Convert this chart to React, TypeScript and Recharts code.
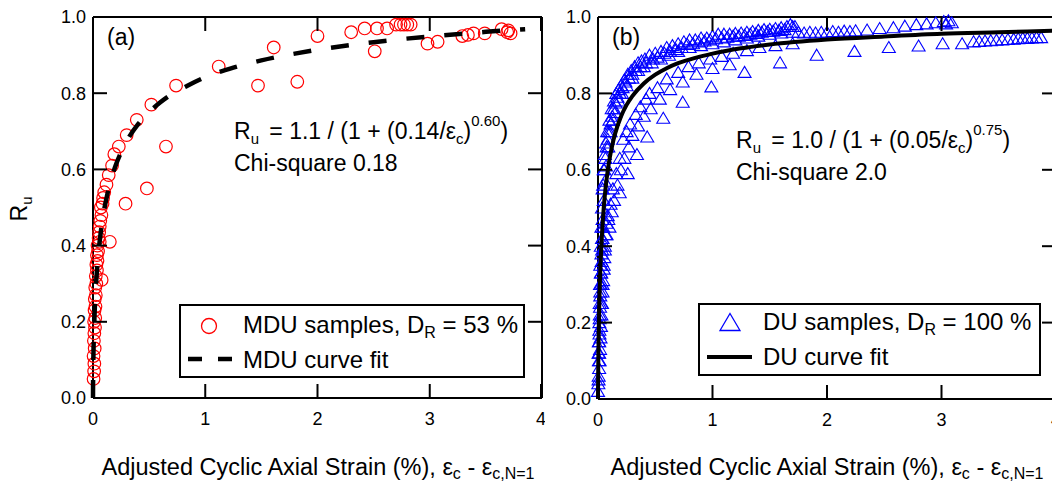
import React from "react";
import { ScatterChart, Scatter, XAxis, YAxis, Legend } from "recharts";

const FONT = "Liberation Sans, Arial, sans-serif";

const xTicks = [0, 1, 2, 3, 4];
const yTicks = [0, 0.2, 0.4, 0.6, 0.8, 1.0];

// (a) MDU samples, DR = 53 %   [adjusted strain %, Ru]
const mduSamples = [
  [0.005, 0.05], [0.01, 0.07], [0.012, 0.09], [0.005, 0.11], [0.015, 0.13], [0.008, 0.15],
  [0.012, 0.17], [0.018, 0.185], [0.01, 0.2], [0.02, 0.21], [0.014, 0.23], [0.022, 0.24],
  [0.016, 0.26], [0.025, 0.27], [0.02, 0.29], [0.077, 0.31], [0.03, 0.3], [0.025, 0.32],
  [0.035, 0.335], [0.03, 0.35], [0.04, 0.36], [0.035, 0.375], [0.045, 0.385], [0.04, 0.4],
  [0.06, 0.41], [0.05, 0.42], [0.15, 0.41], [0.055, 0.435], [0.06, 0.45], [0.065, 0.465],
  [0.075, 0.48], [0.07, 0.5], [0.085, 0.51], [0.09, 0.525], [0.1, 0.54], [0.12, 0.56],
  [0.14, 0.585], [0.17, 0.61], [0.19, 0.64], [0.23, 0.66], [0.3, 0.69], [0.39, 0.73],
  [0.52, 0.77], [0.74, 0.82], [1.12, 0.87], [1.61, 0.92], [2.0, 0.95], [2.3, 0.96],
  [2.42, 0.97], [2.53, 0.97], [2.62, 0.97], [2.7, 0.98], [2.74, 0.98], [2.77, 0.98],
  [2.8, 0.98], [2.83, 0.98], [1.47, 0.82], [1.82, 0.83], [0.65, 0.66], [0.48, 0.55],
  [0.29, 0.51], [2.51, 0.91], [2.98, 0.93], [3.07, 0.935], [3.29, 0.95], [3.34, 0.953],
  [3.39, 0.957], [3.49, 0.957], [3.64, 0.968], [3.69, 0.96], [3.72, 0.957], [3.7, 0.965],
];

// (a) MDU curve fit
const mduFitX = [0, 0.0005, 0.001, 0.002, 0.003, 0.005, 0.0075, 0.01, 0.015, 0.02, 0.03, 0.04, 0.05, 0.07, 0.1, 0.125, 0.15, 0.2, 0.25, 0.3, 0.4, 0.5, 0.6, 0.7, 0.85, 1.0, 1.25, 1.5, 2.0, 2.5, 3.0, 3.5, 3.85];
const mduFitY = [0, 0.036, 0.054, 0.08, 0.1, 0.131, 0.162, 0.187, 0.228, 0.261, 0.313, 0.353, 0.385, 0.437, 0.495, 0.531, 0.561, 0.609, 0.645, 0.674, 0.718, 0.75, 0.776, 0.797, 0.821, 0.842, 0.867, 0.886, 0.914, 0.934, 0.949, 0.961, 0.968];

// (b) DU samples, DR = 100 %
const duSamples = [
  // column near zero strain
  [0, 0.02], [0.003, 0.04], [0.006, 0.06], [0.01, 0.08], [0.014, 0.1], [0.005, 0.12], [0.018, 0.13],
  [0.008, 0.15], [0.022, 0.16], [0.012, 0.18], [0.026, 0.19], [0.015, 0.21], [0.03, 0.22],
  [0.018, 0.24], [0.035, 0.25], [0.02, 0.27], [0.04, 0.28], [0.024, 0.3], [0.045, 0.31],
  [0.028, 0.33], [0.05, 0.34], [0.032, 0.36], [0.055, 0.37], [0.036, 0.39], [0.06, 0.4],
  [0.04, 0.42], [0.068, 0.43], [0.045, 0.45], [0.075, 0.46], [0.085, 0.48],
  // upper band
  [0.005, 0.05], [0.008, 0.1], [0.01, 0.15], [0.012, 0.2], [0.015, 0.25], [0.018, 0.3], [0.02, 0.35],
  [0.025, 0.4], [0.03, 0.45], [0.035, 0.5], [0.04, 0.55], [0.05, 0.6], [0.06, 0.64], [0.07, 0.67],
  [0.08, 0.7], [0.1, 0.73], [0.12, 0.76], [0.14, 0.78], [0.16, 0.8], [0.18, 0.81], [0.2, 0.82],
  [0.23, 0.835], [0.26, 0.85], [0.29, 0.86], [0.32, 0.87], [0.35, 0.88], [0.38, 0.885], [0.41, 0.89],
  [0.45, 0.9], [0.5, 0.905], [0.55, 0.91], [0.6, 0.92], [0.65, 0.925], [0.7, 0.93], [0.75, 0.935],
  [0.8, 0.94], [0.85, 0.94], [0.9, 0.945], [0.95, 0.945], [1.0, 0.95], [1.05, 0.955], [1.1, 0.955],
  [1.15, 0.955], [1.2, 0.957], [1.25, 0.958], [1.3, 0.96], [1.35, 0.962], [1.4, 0.965], [1.45, 0.967],
  [1.5, 0.968], [1.55, 0.97], [1.6, 0.972], [1.65, 0.975], [1.7, 0.975],
  [0.045, 0.56], [0.055, 0.6], [0.065, 0.63], [0.075, 0.66], [0.085, 0.68], [0.095, 0.7], [0.11, 0.72],
  [0.125, 0.74], [0.14, 0.76], [0.155, 0.775], [0.17, 0.79], [0.19, 0.8], [0.215, 0.815], [0.24, 0.83],
  [0.27, 0.84], [0.3, 0.85], [0.33, 0.86], [0.37, 0.87], [0.42, 0.88], [0.48, 0.89], [0.52, 0.895],
  [0.58, 0.905], [0.63, 0.91], [0.68, 0.915], [0.73, 0.92], [0.78, 0.928], [0.83, 0.93], [0.88, 0.935],
  [0.93, 0.937], [0.98, 0.94], [1.03, 0.943], [1.08, 0.945], [1.13, 0.947], [1.18, 0.95], [1.23, 0.95],
  [1.28, 0.952], [1.33, 0.955], [1.38, 0.957], [1.43, 0.96], [1.48, 0.962], [1.53, 0.963], [1.58, 0.965],
  [1.63, 0.967],
  [0.01, 0.12], [0.013, 0.17], [0.016, 0.22], [0.02, 0.28], [0.025, 0.33], [0.03, 0.38], [0.035, 0.42],
  [0.04, 0.47], [0.05, 0.52], [0.06, 0.57], [0.07, 0.61], [0.09, 0.66], [0.11, 0.7], [0.13, 0.73],
  [0.15, 0.75], [0.18, 0.78], [0.21, 0.8], [0.25, 0.82], [0.3, 0.84], [0.35, 0.86], [0.4, 0.87],
  [0.47, 0.88], [0.55, 0.89], [0.62, 0.9], [0.7, 0.91], [0.8, 0.92], [0.9, 0.925], [1.0, 0.93],
  [1.1, 0.935], [1.2, 0.94], [1.3, 0.945], [1.4, 0.95], [1.5, 0.955], [1.6, 0.958], [1.7, 0.96],
  // upper right
  [1.68, 0.98], [1.72, 0.975], [1.75, 0.96], [1.8, 0.958], [1.85, 0.96], [1.9, 0.958], [1.95, 0.96],
  [2.0, 0.96], [2.05, 0.962], [2.1, 0.96], [2.15, 0.963], [2.2, 0.962], [2.25, 0.964], [2.35, 0.966],
  [2.46, 0.97], [2.58, 0.972], [2.68, 0.976], [2.78, 0.98], [2.87, 0.982], [2.95, 0.985],
  [3.02, 0.988], [3.06, 0.99], [3.09, 0.985], [3.04, 0.982],
  // lower band
  [0.03, 0.25], [0.04, 0.3], [0.05, 0.35], [0.06, 0.39], [0.075, 0.43], [0.09, 0.47], [0.11, 0.51],
  [0.13, 0.55], [0.16, 0.59], [0.19, 0.63], [0.22, 0.68], [0.25, 0.7], [0.28, 0.72], [0.33, 0.745],
  [0.37, 0.765], [0.42, 0.785], [0.45, 0.8], [0.52, 0.815], [0.6, 0.838], [0.7, 0.855], [0.79, 0.87],
  [0.88, 0.88], [0.98, 0.89], [1.08, 0.897], [1.18, 0.905], [1.3, 0.912], [1.41, 0.92], [1.55, 0.925],
  [1.7, 0.93],
  [0.1, 0.45], [0.12, 0.49], [0.14, 0.52], [0.17, 0.56], [0.2, 0.6], [0.23, 0.63], [0.27, 0.66],
  [0.3, 0.69], [0.35, 0.715], [0.4, 0.74], [0.46, 0.76], [0.54, 0.785], [0.63, 0.81], [0.74, 0.83],
  [0.86, 0.85], [1.0, 0.865], [1.15, 0.875],
  [0.19, 0.54], [0.26, 0.59], [0.34, 0.64], [0.43, 0.686], [0.57, 0.735], [0.74, 0.777], [0.99, 0.817],
  [1.28, 0.855], [1.59, 0.88], [1.91, 0.9], [2.24, 0.91], [2.54, 0.92], [2.8, 0.924], [3.01, 0.93],
  [3.18, 0.93],
  [3.28, 0.935], [3.33, 0.936], [3.38, 0.937], [3.43, 0.938], [3.48, 0.939], [3.53, 0.94],
  [3.58, 0.941], [3.63, 0.942], [3.67, 0.943], [3.71, 0.944], [3.75, 0.944], [3.79, 0.945],
  [3.83, 0.946], [3.87, 0.946],
];

// (b) DU curve fit
const duFitX = [0, 0.0005, 0.001, 0.002, 0.003, 0.005, 0.0075, 0.01, 0.015, 0.02, 0.03, 0.04, 0.05, 0.065, 0.08, 0.1, 0.125, 0.15, 0.2, 0.25, 0.3, 0.4, 0.5, 0.6, 0.7, 0.85, 1.0, 1.25, 1.5, 2.0, 2.5, 3.0, 3.5, 4.0];
const duFitY = [0, 0.031, 0.05, 0.082, 0.108, 0.151, 0.194, 0.23, 0.288, 0.335, 0.405, 0.458, 0.5, 0.549, 0.587, 0.627, 0.665, 0.695, 0.739, 0.77, 0.793, 0.826, 0.849, 0.866, 0.879, 0.893, 0.904, 0.918, 0.928, 0.941, 0.949, 0.956, 0.96, 0.964];

const toPts = (rows: number[][]) => rows.map(([x, y]) => ({ x, y }));
const zipPts = (xs: number[], ys: number[]) => xs.map((x, i) => ({ x, y: ys[i] }));

const mduData = toPts(mduSamples);
const mduFit = zipPts(mduFitX, mduFitY);
const duData = toPts(duSamples);
const duFit = zipPts(duFitX, duFitY);

const frame = { stroke: "#000", strokeWidth: 2 };
const TICK_LEN = 14;
const X_MARGIN = 14;
const Y_MARGIN = 7;

// bottom tick label plus inward tick marks on bottom and top edges
const XTick = (p: any) => {
  const axisY = p.y - X_MARGIN;
  return (
    <g>
      <line x1={p.x} x2={p.x} y1={axisY} y2={axisY - TICK_LEN} stroke="#000" strokeWidth={2} />
      <line x1={p.x} x2={p.x} y1={p.top} y2={p.top + TICK_LEN} stroke="#000" strokeWidth={2} />
      <text x={p.x} y={p.y} dy="0.71em" textAnchor="middle" fontSize={18} fontFamily={FONT} fill="#000">
        {p.payload.value}
      </text>
    </g>
  );
};

// left tick label plus inward tick marks on left and right edges
const YTick = (p: any) => {
  const axisX = p.x + Y_MARGIN;
  return (
    <g>
      <line x1={axisX} x2={axisX + TICK_LEN} y1={p.y} y2={p.y} stroke="#000" strokeWidth={2} />
      <line x1={p.right - TICK_LEN} x2={p.right} y1={p.y} y2={p.y} stroke="#000" strokeWidth={2} />
      <text x={p.x} y={p.y} dy="0.35em" textAnchor="end" fontSize={18} fontFamily={FONT} fill="#000">
        {Number(p.payload.value).toFixed(1)}
      </text>
    </g>
  );
};

const RedCircle = (p: any) => (
  <circle cx={p.cx} cy={p.cy} r={6.3} fill="none" stroke="#ff0000" strokeWidth={1.2} />
);
const BlueTriangle = (p: any) => (
  <path
    d={`M${p.cx},${p.cy - 6}L${p.cx + 6.5},${p.cy + 5}L${p.cx - 6.5},${p.cy + 5}Z`}
    fill="none"
    stroke="#0000ff"
    strokeWidth={1.1}
  />
);
const NoDot = () => <g />;

const XTitle = ({ cx }: { cx: number }) => (
  <text x={cx} y={475} textAnchor="middle" fontSize={23.5} fontFamily={FONT} fill="#000">
    Adjusted Cyclic Axial Strain (%), ε<tspan dy={4} fontSize={16}>c</tspan>
    <tspan dy={-4}> - ε</tspan>
    <tspan dy={4} fontSize={16}>c,N=1</tspan>
  </text>
);

const MduLegend = () => (
  <svg width={346} height={74} style={{ display: "block" }}>
    <rect x={1} y={1} width={344} height={72} fill="#fff" stroke="#000" strokeWidth={2} />
    <circle cx={30} cy={22} r={7.5} fill="none" stroke="#ff0000" strokeWidth={1.3} />
    <text x={64} y={29} fontSize={24} fontFamily={FONT} fill="#000">
      MDU samples, D<tspan dy={5} fontSize={16}>R</tspan>
      <tspan dy={-5}> = 53 %</tspan>
    </text>
    <line x1={9} x2={53} y1={55} y2={55} stroke="#000" strokeWidth={4.5} strokeDasharray="14 16" />
    <text x={64} y={64} fontSize={24} fontFamily={FONT} fill="#000">MDU curve fit</text>
  </svg>
);

const DuLegend = () => (
  <svg width={343} height={73} style={{ display: "block" }}>
    <rect x={1} y={1} width={341} height={71} fill="#fff" stroke="#000" strokeWidth={2} />
    <path d="M32,10.5L42,27.5L22,27.5Z" fill="none" stroke="#0000ff" strokeWidth={1.3} />
    <text x={65} y={27} fontSize={24} fontFamily={FONT} fill="#000">
      DU samples, D<tspan dy={5} fontSize={16}>R</tspan>
      <tspan dy={-5}> = 100 %</tspan>
    </text>
    <line x1={9} x2={54} y1={54} y2={54} stroke="#000" strokeWidth={4} />
    <text x={65} y={62} fontSize={24} fontFamily={FONT} fill="#000">DU curve fit</text>
  </svg>
);

export default function App() {
  return (
    <div style={{ position: "absolute", left: 0, top: 0, width: 1052, height: 485, overflow: "hidden", background: "#fff" }}>
      {/* (a) MDU */}
      <div style={{ position: "absolute", left: 0, top: 0 }}>
        <ScatterChart width={545} height={485} margin={{ top: 17, right: 3, bottom: 57, left: 0 }}>
          <XAxis type="number" dataKey="x" domain={[0, 4]} ticks={xTicks} height={30} axisLine={frame} tickLine={false} tickSize={0} tickMargin={X_MARGIN} tick={(p: any) => <XTick {...p} top={17} />} />
          <XAxis xAxisId="top" orientation="top" type="number" domain={[0, 4]} ticks={xTicks} mirror tick={false} tickLine={false} axisLine={frame} />
          <YAxis type="number" dataKey="y" domain={[0, 1]} ticks={yTicks} width={93} axisLine={frame} tickLine={false} tickSize={0} tickMargin={Y_MARGIN} tick={(p: any) => <YTick {...p} right={542} />} />
          <YAxis yAxisId="right" orientation="right" type="number" domain={[0, 1]} ticks={yTicks} mirror tick={false} tickLine={false} axisLine={frame} />
          <Scatter name="MDU samples" data={mduData} shape={RedCircle} isAnimationActive={false} />
          <Scatter
            name="MDU curve fit"
            data={mduFit}
            fill="#000"
            line={{ stroke: "#000", strokeWidth: 4.5, strokeDasharray: "18 20" }}
            lineJointType="monotoneX"
            shape={NoDot}
            isAnimationActive={false}
          />
          <Legend layout="vertical" align="center" verticalAlign="middle" wrapperStyle={{ left: 179, top: 304, width: 346, height: 74 }} content={() => <MduLegend />} />
          <text x={107} y={45} fontSize={23} fontFamily={FONT} fill="#000">(a)</text>
          <text x={234} y={139} fontSize={23} fontFamily={FONT} fill="#000">
            R<tspan dy={5} fontSize={15}>u</tspan>
            <tspan dy={-5} dx={4}> = 1.1 / (1 + (0.14/ε</tspan>
            <tspan dy={5} fontSize={15}>c</tspan>
            <tspan dy={-5}>)</tspan>
            <tspan dy={-13} fontSize={15}>0.60</tspan>
            <tspan dy={13}>)</tspan>
          </text>
          <text x={234} y={171} fontSize={23} fontFamily={FONT} fill="#000">Chi-square 0.18</text>
          <text transform="translate(27,209) rotate(-90)" x={0} y={0} textAnchor="middle" fontSize={23} fontFamily={FONT} fill="#000">
            R<tspan dy={5} fontSize={15}>u</tspan>
          </text>
          <XTitle cx={318} />
        </ScatterChart>
      </div>

      {/* (b) DU */}
      <div style={{ position: "absolute", left: 545, top: 0 }}>
        <ScatterChart width={525} height={485} margin={{ top: 17, right: 14, bottom: 56, left: 13 }}>
          <XAxis type="number" dataKey="x" domain={[0, 4]} ticks={xTicks} height={30} axisLine={frame} tickLine={false} tickSize={0} tickMargin={X_MARGIN} tick={(p: any) => <XTick {...p} top={17} />} />
          <XAxis xAxisId="top" orientation="top" type="number" domain={[0, 4]} ticks={xTicks} mirror tick={false} tickLine={false} axisLine={frame} />
          <YAxis type="number" dataKey="y" domain={[0, 1]} ticks={yTicks} width={40} axisLine={frame} tickLine={false} tickSize={0} tickMargin={Y_MARGIN} tick={(p: any) => <YTick {...p} right={511} />} />
          <YAxis yAxisId="right" orientation="right" type="number" domain={[0, 1]} ticks={yTicks} mirror tick={false} tickLine={false} axisLine={frame} />
          <Scatter name="DU samples" data={duData} shape={BlueTriangle} isAnimationActive={false} />
          <Scatter
            name="DU curve fit"
            data={duFit}
            fill="#000"
            line={{ stroke: "#000", strokeWidth: 4 }}
            lineJointType="monotoneX"
            shape={NoDot}
            isAnimationActive={false}
          />
          <Legend layout="vertical" align="center" verticalAlign="middle" wrapperStyle={{ left: 153, top: 303, width: 343, height: 73 }} content={() => <DuLegend />} />
          <text x={67} y={45} fontSize={23} fontFamily={FONT} fill="#000">(b)</text>
          <text x={191} y={148} fontSize={23} fontFamily={FONT} fill="#000">
            R<tspan dy={5} fontSize={15}>u</tspan>
            <tspan dy={-5} dx={4}> = 1.0 / (1 + (0.05/ε</tspan>
            <tspan dy={5} fontSize={15}>c</tspan>
            <tspan dy={-5}>)</tspan>
            <tspan dy={-13} fontSize={15}>0.75</tspan>
            <tspan dy={13}>)</tspan>
          </text>
          <text x={191} y={180} fontSize={23} fontFamily={FONT} fill="#000">Chi-square 2.0</text>
          <XTitle cx={282} />
        </ScatterChart>
      </div>
    </div>
  );
}
